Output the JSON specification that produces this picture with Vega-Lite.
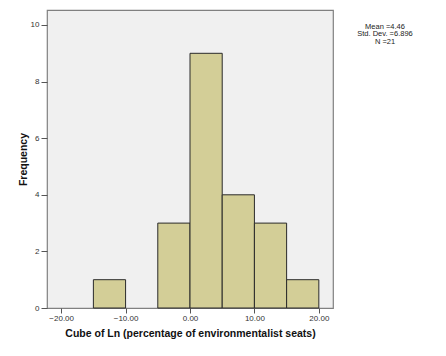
{
  "$schema": "https://vega.github.io/schema/vega-lite/v6.json",
  "autosize": "none",
  "padding": {"left": 47, "top": 10, "right": 113, "bottom": 48},
  "width": 286,
  "height": 298,
  "background": "white",
  "config": {
    "font": "Liberation Sans",
    "view": {"fill": "#F0F0F0", "stroke": "#808080", "strokeWidth": 1.2}
  },
  "title": {
    "text": ["Mean =4.46", "Std. Dev. =6.896", "N =21"],
    "orient": "top",
    "anchor": "end",
    "align": "center",
    "baseline": "top",
    "dx": 52,
    "dy": 35,
    "offset": 0,
    "fontSize": 7.5,
    "fontWeight": "normal",
    "lineHeight": 7.5,
    "color": "#222222",
    "font": "Liberation Sans"
  },
  "data": {
    "values": [
      {"bin_start": -15, "bin_end": -10, "count": 1},
      {"bin_start": -10, "bin_end": -5, "count": 0},
      {"bin_start": -5, "bin_end": 0, "count": 3},
      {"bin_start": 0, "bin_end": 5, "count": 9},
      {"bin_start": 5, "bin_end": 10, "count": 4},
      {"bin_start": 10, "bin_end": 15, "count": 3},
      {"bin_start": 15, "bin_end": 20, "count": 1}
    ]
  },
  "transform": [{"filter": "datum.count > 0"}],
  "mark": {"type": "bar", "fill": "#D3CE97", "stroke": "#2a2a2a", "strokeWidth": 1},
  "encoding": {
    "x": {
      "field": "bin_start",
      "type": "quantitative",
      "scale": {"domain": [-22.2, 22.2], "nice": false, "zero": false},
      "axis": {
        "title": "Cube of Ln (percentage of environmentalist seats)",
        "values": [-20, -10, 0, 10, 20],
        "format": ".2f",
        "grid": false,
        "domain": false,
        "tickColor": "#555555",
        "tickSize": 5,
        "labelFontSize": 8,
        "labelColor": "#333333",
        "labelPadding": 1,
        "titleFontSize": 10.5,
        "titleFontWeight": "bold",
        "titleColor": "#111111",
        "titlePadding": 6
      }
    },
    "x2": {"field": "bin_end"},
    "y": {
      "field": "count",
      "type": "quantitative",
      "scale": {"domain": [0, 10.53], "nice": false},
      "axis": {
        "title": "Frequency",
        "values": [0, 2, 4, 6, 8, 10],
        "grid": false,
        "domain": false,
        "tickColor": "#555555",
        "tickSize": 6,
        "labelFontSize": 8,
        "labelColor": "#333333",
        "labelPadding": 2,
        "titleFontSize": 10.5,
        "titleFontWeight": "bold",
        "titleColor": "#111111",
        "titlePadding": 2
      }
    },
    "y2": {"datum": 0}
  }
}
